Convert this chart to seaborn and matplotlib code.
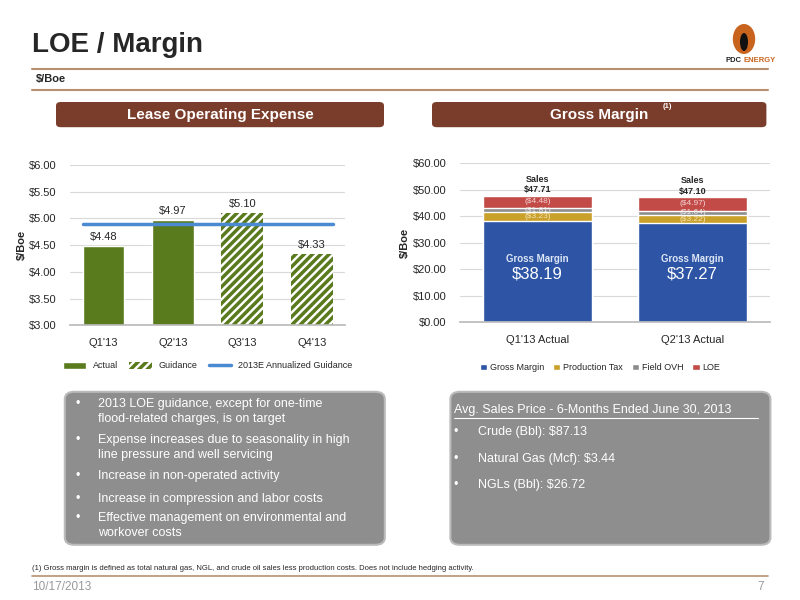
import matplotlib
matplotlib.use("Agg")
import matplotlib.pyplot as plt
import seaborn as sns
import numpy as np
import pandas as pd
from matplotlib.patches import FancyBboxPatch, Patch, Ellipse
from matplotlib.lines import Line2D

sns.set_theme(style="white")
plt.rcParams['font.family'] = ['Liberation Sans', 'DejaVu Sans']
plt.rcParams['hatch.linewidth'] = 2.5

quarters = ["Q1'13", "Q2'13", "Q3'13", "Q4'13"]
loe_values = [4.48, 4.97, 5.10, 4.33]
loe_kind = ["Actual", "Actual", "Guidance", "Guidance"]
annual_guidance = 4.90

periods = ["Q1'13 Actual", "Q2'13 Actual"]
gross_margin = [38.19, 37.27]
production_tax = [3.23, 3.22]
field_ovh = [1.81, 1.64]
loe_cost = [4.48, 4.97]
sales = [47.71, 47.10]

GREEN = "#5A7A1E"; BLUE = "#2E55A5"; GOLD = "#C9A02A"; GRAY = "#8C8C8C"; RED = "#C24B48"
BROWN = "#7A3D2B"

fig = plt.figure(figsize=(8, 6), dpi=100)
fig.patch.set_facecolor("white")

# Header
fig.text(0.04, 0.925, "LOE / Margin", fontsize=20, fontweight="bold", va="center")
fig.add_artist(Line2D([0.04, 0.96], [0.885, 0.885], color="#B8906E", lw=1.5))
fig.text(0.045, 0.868, "$/Boe", fontsize=8, fontweight="bold", va="center")
fig.add_artist(Line2D([0.04, 0.96], [0.85, 0.85], color="#B8906E", lw=1.5))
fig.add_artist(Ellipse((0.93, 0.935), 0.028, 0.05, transform=fig.transFigure, fc="#C8641E", ec="none"))
fig.add_artist(Ellipse((0.93, 0.930), 0.01, 0.03, transform=fig.transFigure, fc="#111111", ec="none"))
fig.text(0.927, 0.900, "PDC", fontsize=5.5, fontweight="bold", ha="right", va="center", color="#222")
fig.text(0.929, 0.900, "ENERGY", fontsize=5.5, fontweight="bold", ha="left", va="center", color="#C8641E")

for x0, w, t in [(0.07, 0.41, "Lease Operating Expense"), (0.54, 0.418, "Gross Margin")]:
    fig.add_artist(FancyBboxPatch((x0, 0.788), w, 0.042, boxstyle="round,pad=0,rounding_size=0.006",
                                  transform=fig.transFigure, fc=BROWN, ec="none"))
    fig.text(x0 + w / 2, 0.809, t, fontsize=11, fontweight="bold", color="white", ha="center", va="center")
fig.text(0.828, 0.823, "(1)", fontsize=5.5, fontweight="bold", color="white", va="center")

# Left chart
ax1 = fig.add_axes([0.0875, 0.458, 0.344, 0.267])
df1 = pd.DataFrame({"q": quarters, "v": loe_values})
sns.barplot(data=df1, x="q", y="v", ax=ax1, color=GREEN, width=0.6, saturation=1)
for p, k in zip(ax1.patches, loe_kind):
    if k == "Guidance":
        p.set_facecolor("white"); p.set_edgecolor(GREEN); p.set_hatch("////"); p.set_linewidth(0)
ax1.plot([-0.3, 3.3], [annual_guidance] * 2, color="#4A8AD0", lw=2.5)
for i, v in enumerate(loe_values):
    ax1.text(i, v + 0.07, f"${v:.2f}", ha="center", va="bottom", fontsize=8)
ax1.set_ylim(3.0, 6.0)
ax1.set_yticks(np.arange(3.0, 6.01, 0.5))
ax1.set_yticklabels([f"${t:.2f}" for t in np.arange(3.0, 6.01, 0.5)], fontsize=8)
ax1.tick_params(axis="x", labelsize=8)
ax1.set_xlabel(""); ax1.set_ylabel("$/Boe", fontsize=8, fontweight="bold", labelpad=2)
ax1.yaxis.grid(True, color="#D9D9D9", lw=0.8); ax1.set_axisbelow(True)
for s in ["top", "right", "left"]:
    ax1.spines[s].set_visible(False)
ax1.spines["bottom"].set_color("#BBBBBB")
h1 = [Patch(fc=GREEN), Patch(fc="white", ec=GREEN, hatch="////", lw=0), Line2D([], [], color="#4A8AD0", lw=2.5)]
fig.legend(h1, ["Actual", "Guidance", "2013E Annualized Guidance"], loc="center", bbox_to_anchor=(0.26, 0.39),
           ncol=3, fontsize=6.5, frameon=False, handlelength=2.5, columnspacing=1.2)

# Right chart
ax2 = fig.add_axes([0.575, 0.463, 0.3875, 0.265])
gm = np.array(gross_margin); pt = np.array(production_tax); fo = np.array(field_ovh); lo = np.array(loe_cost)
layers = [("LOE", gm + pt + fo + lo, RED), ("Field OVH", gm + pt + fo, GRAY),
          ("Production Tax", gm + pt, GOLD), ("Gross Margin", gm, BLUE)]
for name, vals, c in layers:
    sns.barplot(x=periods, y=vals, ax=ax2, color=c, width=0.7, saturation=1)
for i in range(2):
    ax2.text(i, gm[i] + pt[i] / 2, f"(${pt[i]:.2f})", ha="center", va="center", fontsize=6, color="#F5E6B8")
    ax2.text(i, gm[i] + pt[i] + fo[i] / 2, f"(${fo[i]:.2f})", ha="center", va="center", fontsize=6, color="#E8E8E8")
    ax2.text(i, gm[i] + pt[i] + fo[i] + lo[i] / 2, f"(${lo[i]:.2f})", ha="center", va="center", fontsize=6, color="#F5D5D5")
    ax2.text(i, sales[i] + 4.6, "Sales", ha="center", va="bottom", fontsize=6.5, fontweight="bold")
    ax2.text(i, sales[i] + 0.6, f"${sales[i]:.2f}", ha="center", va="bottom", fontsize=6.5, fontweight="bold")
    ax2.text(i, 24, "Gross Margin", ha="center", va="center", fontsize=7, fontweight="bold", color="#DDE6F5")
    ax2.text(i, 18, f"${gm[i]:.2f}", ha="center", va="center", fontsize=12, color="white")
ax2.set_ylim(0, 60)
ax2.set_yticks(np.arange(0, 61, 10))
ax2.set_yticklabels([f"${t:.2f}" for t in np.arange(0, 61, 10)], fontsize=8)
ax2.tick_params(axis="x", labelsize=8)
ax2.set_ylabel("$/Boe", fontsize=8, fontweight="bold", labelpad=2)
ax2.yaxis.grid(True, color="#D9D9D9", lw=0.8); ax2.set_axisbelow(True)
for s in ["top", "right", "left"]:
    ax2.spines[s].set_visible(False)
ax2.spines["bottom"].set_color("#BBBBBB")
h2 = [Patch(fc=BLUE), Patch(fc=GOLD), Patch(fc=GRAY), Patch(fc=RED)]
fig.legend(h2, ["Gross Margin", "Production Tax", "Field OVH", "LOE"], loc="center", bbox_to_anchor=(0.75, 0.387),
           ncol=4, fontsize=6.5, frameon=False, handlelength=0.8, handletextpad=0.3, columnspacing=1.0)

# Text boxes
for x0 in [0.081, 0.563]:
    fig.add_artist(FancyBboxPatch((x0, 0.092), 0.4, 0.255, boxstyle="round,pad=0,rounding_size=0.012",
                                  transform=fig.transFigure, fc="#8E8E8E", ec="#BBBBBB", lw=1.5))
left_lines = [("•", "2013 LOE guidance, except for one-time\nflood-related charges, is on target", 0.336),
              ("•", "Expense increases due to seasonality in high\nline pressure and well servicing", 0.276),
              ("•", "Increase in non-operated activity", 0.216),
              ("•", "Increase in compression and labor costs", 0.178),
              ("•", "Effective management on environmental and\nworkover costs", 0.146)]
for b, t, y in left_lines:
    fig.text(0.095, y, b, fontsize=9, color="white", va="top")
    fig.text(0.122, y, t, fontsize=9, color="white", va="top", linespacing=1.3)
fig.text(0.567, 0.326, "Avg. Sales Price - 6-Months Ended June 30, 2013", fontsize=9, color="white", va="top")
fig.add_artist(Line2D([0.567, 0.947], [0.304, 0.304], color="white", lw=0.8))
for t, y in [("Crude (Bbl): $87.13", 0.29), ("Natural Gas (Mcf): $3.44", 0.245), ("NGLs (Bbl): $26.72", 0.202)]:
    fig.text(0.567, y, "•", fontsize=9, color="white", va="top")
    fig.text(0.598, y, t, fontsize=9, color="white", va="top")

# Footer
fig.text(0.04, 0.052, "(1) Gross margin is defined as total natural gas, NGL, and crude oil sales less production costs. Does not include hedging activity.",
         fontsize=5.5, va="center")
fig.add_artist(Line2D([0.04, 0.96], [0.04, 0.04], color="#B8906E", lw=1.2))
fig.text(0.04, 0.022, "10/17/2013", fontsize=8.5, color="#999999", va="center")
fig.text(0.955, 0.022, "7", fontsize=8.5, color="#999999", va="center", ha="right")

fig.savefig("out.png", dpi=100, facecolor="white")
